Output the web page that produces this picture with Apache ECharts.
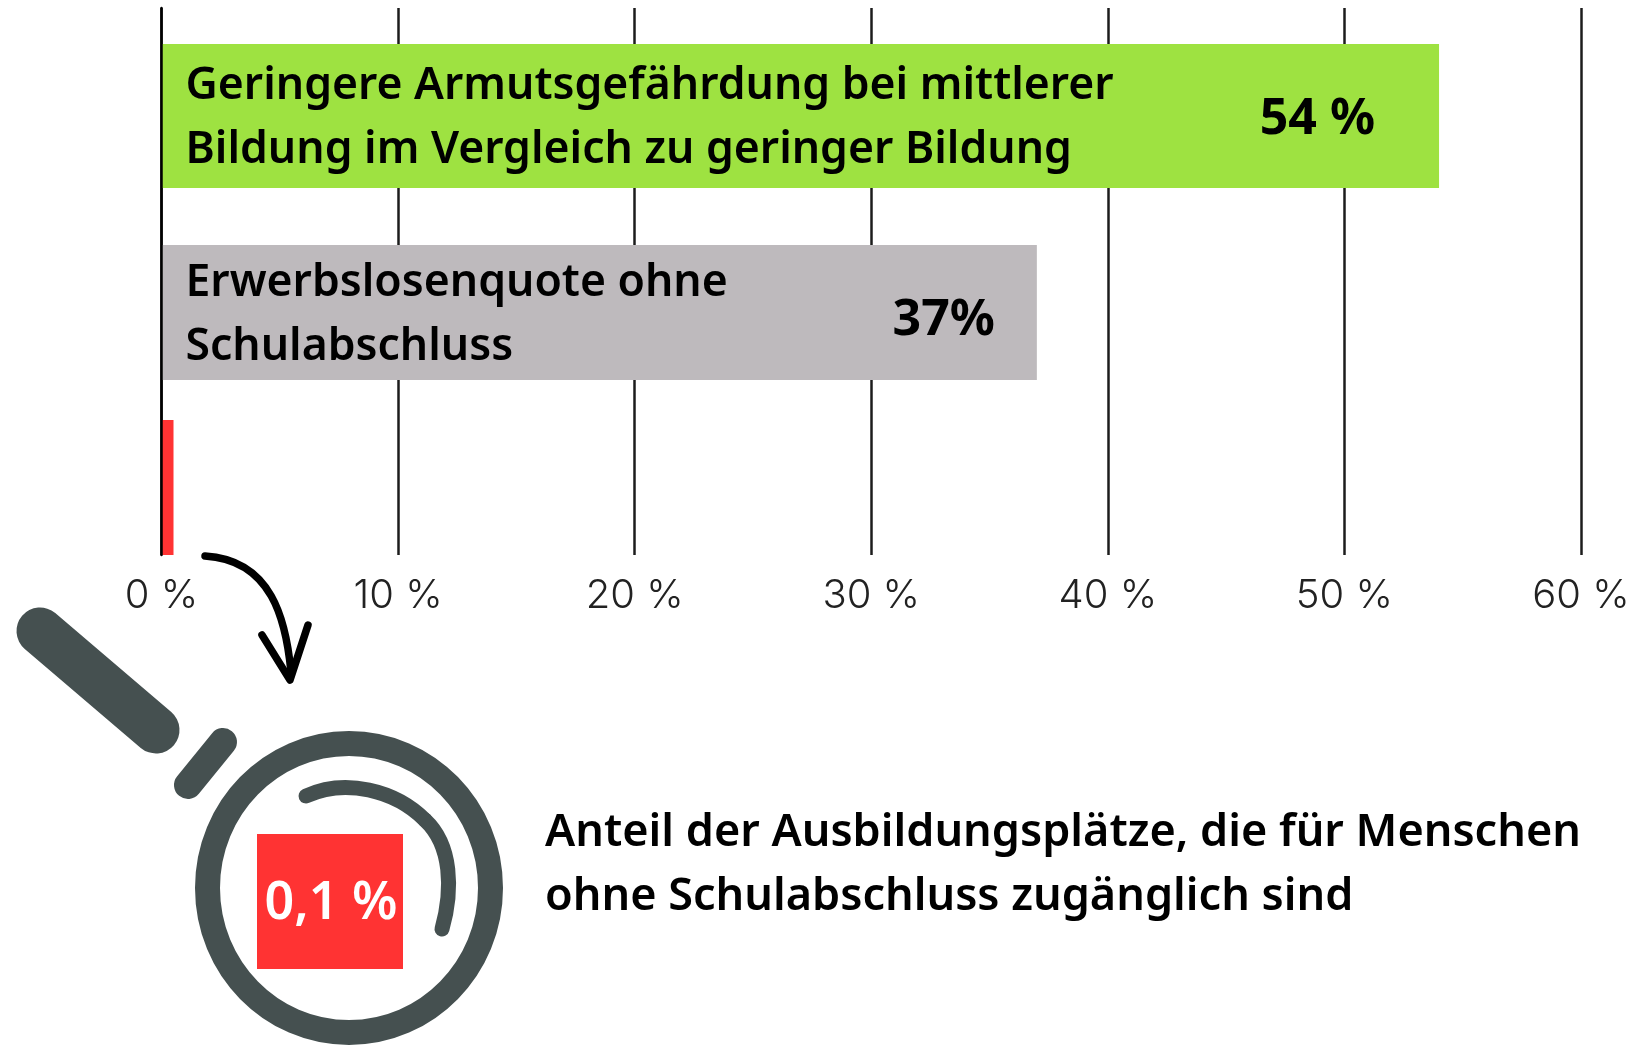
<!DOCTYPE html>
<html><head><meta charset="utf-8">
<style>html,body{margin:0;padding:0;background:#fff}#c{width:1650px;height:1045px}</style>
<script src="https://cdn.jsdelivr.net/npm/echarts@6/dist/echarts.min.js"></script>
</head><body><div id="c"></div>
<script>
const categories = [
  "Geringere Armutsgefährdung bei mittlerer\nBildung im Vergleich zu geringer Bildung",
  "Erwerbslosenquote ohne\nSchulabschluss",
  "Anteil der Ausbildungsplätze, die für Menschen\nohne Schulabschluss zugänglich sind"
];
const values = [54, 37, 0.1];
const valueLabels = ["54 %", "37%", "0,1 %"];
const tickLabels = ["0 %", "10 %", "20 %", "30 %", "40 %", "50 %", "60 %"];
const barColors = ["#9EE241", "#BEBABD", "#FF3333"];

const FONT = '"Noto Sans", sans-serif';
const DARK = '#455050';
const plot = {left: 161.5, width: 1419.5, top: 8, height: 547, min: 0, max: 60};
const rows = [
  {top: 44, height: 144, nameLabel: true, inset: 64, nameShift: 2, valueShift: 4},
  {top: 245, height: 135, nameLabel: true, inset: 42, nameShift: 3, valueShift: 8},
  {top: 420, height: 135, nameLabel: false, inset: 0, minLen: 12}
];

const grids = [{left: plot.left, width: plot.width, top: plot.top, height: plot.height}];
const xAxes = [{
  type: 'value', gridIndex: 0, min: plot.min, max: plot.max, interval: 10,
  axisLine: {show: false}, axisTick: {show: false},
  splitLine: {show: true, lineStyle: {color: '#1c1c1c', width: 2.5}},
  axisLabel: {
    margin: 21, fontFamily: 'Inter, sans-serif', fontWeight: 300, fontSize: 40, color: '#222',
    hideOverlap: false, showMinLabel: true, showMaxLabel: true,
    formatter: (v) => tickLabels[v / 10]
  }
}];
const yAxes = [{
  type: 'value', gridIndex: 0, min: 0, max: 1, z: 10,
  axisLine: {show: true, onZero: false, lineStyle: {color: '#000', width: 2.5}},
  axisTick: {show: false}, axisLabel: {show: false}, splitLine: {show: false}
}];
const series = [];

rows.forEach((r, i) => {
  const g = i + 1;
  grids.push({left: plot.left, width: plot.width, top: r.top, height: r.height});
  xAxes.push({type: 'value', gridIndex: g, min: plot.min, max: plot.max, show: false});
  yAxes.push({type: 'category', gridIndex: g, data: [categories[i]], show: false});
  series.push({
    type: 'bar', xAxisIndex: g, yAxisIndex: g, barWidth: '100%', barGap: '-100%',
    barMinHeight: r.minLen || 0, silent: true, z: 1,
    itemStyle: {color: barColors[i]},
    data: [values[i]],
    label: {
      show: r.nameLabel, position: 'insideLeft', distance: 24, offset: [0, r.nameShift || 0],
      formatter: () => categories[i], align: 'left',
      fontFamily: FONT, fontWeight: 600, fontSize: 44.5, lineHeight: 64, color: '#000'
    }
  });
  if (r.nameLabel) {
    series.push({
      type: 'bar', xAxisIndex: g, yAxisIndex: g, barWidth: '100%', barGap: '-100%', silent: true, z: 3,
      itemStyle: {color: 'transparent'},
      data: [values[i]],
      label: {
        show: true, position: 'insideRight', distance: r.inset, offset: [0, r.valueShift],
        formatter: () => valueLabels[i],
        fontFamily: FONT, fontWeight: 700, fontSize: 50, color: '#000'
      }
    });
  }
});

const arrowStyle = {stroke: '#000', lineWidth: 7.5, fill: null, lineCap: 'round', lineJoin: 'round'};
const glintStyle = {stroke: DARK, lineWidth: 15, fill: null, lineCap: 'round', lineJoin: 'round'};
const graphic = [
  // arrow
  {type: 'bezierCurve', z: 5, shape: {x1: 205, y1: 556, cpx1: 272, cpy1: 560, cpx2: 286, cpy2: 620, x2: 291, y2: 672}, style: arrowStyle},
  {type: 'polyline', z: 5, shape: {points: [[262,635],[290,680],[308,625]]}, style: arrowStyle},
  // magnifier
  {type: 'ellipse', z: 5, shape: {cx: 349, cy: 888, rx: 141.5, ry: 144.5},
   style: {stroke: DARK, lineWidth: 25, fill: null}},
  {type: 'line', z: 5, shape: {x1: 40, y1: 631, x2: 156, y2: 730},
   style: {stroke: DARK, lineWidth: 47, lineCap: 'round'}},
  {type: 'line', z: 5, shape: {x1: 188, y1: 785, x2: 223, y2: 742},
   style: {stroke: DARK, lineWidth: 28, lineCap: 'round'}},
  {type: 'bezierCurve', z: 5, shape: {x1: 306, y1: 796, cpx1: 345, cpy1: 778, cpx2: 395, cpy2: 790, x2: 425, cpy: 0, y2: 820}, style: glintStyle},
  {type: 'bezierCurve', z: 5, shape: {x1: 425, y1: 820, cpx1: 452, cpy1: 845, cpx2: 453, cpy2: 890, x2: 442, y2: 929}, style: glintStyle},
  // callout
  {type: 'rect', z: 6, shape: {x: 257, y: 834, width: 146, height: 135}, style: {fill: barColors[2]}},
  {type: 'text', z: 7, x: 331, y: 904,
   style: {text: valueLabels[2], fill: '#fff', font: '600 52px ' + FONT, align: 'center', verticalAlign: 'middle'}},
  {type: 'text', z: 7, x: 545, y: 865,
   style: {text: categories[2], fill: '#000', font: '600 45px ' + FONT, lineHeight: 64, align: 'left', verticalAlign: 'middle'}}
];

const chart = echarts.init(document.getElementById('c'), null, {renderer: 'canvas'});
chart.setOption({
  animation: false, backgroundColor: '#fff',
  grid: grids, xAxis: xAxes, yAxis: yAxes, series, graphic
});
</script></body></html>
